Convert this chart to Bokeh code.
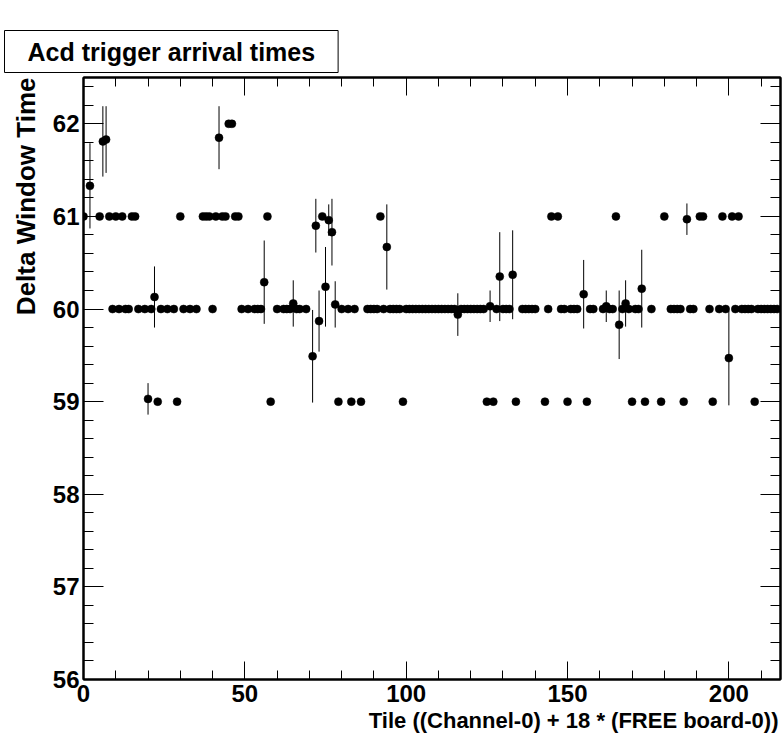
from bokeh.plotting import figure
from bokeh.models import LinearAxis, FixedTicker, CustomJSTickFormatter, Range1d, Title
from bokeh.embed import file_html
from bokeh.resources import INLINE

# ---- data ----
tiles_59 = [23, 29, 58, 79, 83, 86, 99, 125, 127, 134, 143, 150, 156, 170, 174,
            179, 186, 195, 208]
tiles_60 = [9, 11, 13, 14, 17, 19, 21, 24, 26, 28, 31, 33, 35, 40, 49, 51, 53, 54,
            55, 60, 62, 63, 64, 66, 67, 69, 80, 82, 84, 88, 89, 90, 91, 93, 95, 96,
            97, 98, 100, 101, 102, 103, 104, 105, 106, 107, 108, 109, 110, 111, 112,
            113, 114, 115, 117, 118, 119, 120, 121, 122, 123, 124, 128, 130, 131,
            132, 136, 137, 138, 139, 140, 144, 148, 149, 151, 152, 153, 157, 158,
            161, 163, 164, 167, 169, 171, 172, 176, 182, 183, 184, 185, 188, 189,
            194, 197, 199, 202, 204, 205, 206, 207, 209, 210, 211, 212, 213, 214, 215]
tiles_61 = [0, 5, 8, 10, 12, 15, 16, 30, 37, 38, 39, 41, 43, 44, 47, 48, 57, 74, 92,
            145, 147, 165, 180, 191, 192, 198, 201, 203]
tiles_62 = [45, 46]

err_tiles = [2, 6, 7, 20, 22, 42, 56, 65, 71, 72, 73, 75, 76, 77, 78, 94, 116, 126,
             129, 133, 155, 162, 166, 168, 173, 187, 200]
err_values = [61.33, 61.81, 61.83, 59.03, 60.13, 61.85, 60.29, 60.06, 59.49, 60.90,
              59.87, 60.24, 60.96, 60.83, 60.05, 60.67, 59.94, 60.03, 60.35, 60.37,
              60.16, 60.03, 59.83, 60.06, 60.22, 60.97, 59.47]
err_sizes = [0.46, 0.38, 0.36, 0.17, 0.33, 0.34, 0.45, 0.25, 0.50, 0.29, 0.33, 0.43,
             0.17, 0.36, 0.25, 0.46, 0.23, 0.17, 0.48, 0.48, 0.37, 0.17, 0.37, 0.25,
             0.42, 0.17, 0.51]

x_major = [0, 50, 100, 150, 200]
x_minor = [0, 10, 20, 30, 40, 50, 60, 70, 80, 90, 100, 110, 120, 130, 140, 150,
           160, 170, 180, 190, 200, 210]
y_major = [56, 57, 58, 59, 60, 61, 62]
y_minor = [56.0, 56.2, 56.4, 56.6, 56.8, 57.0, 57.2, 57.4, 57.6, 57.8, 58.0, 58.2,
           58.4, 58.6, 58.8, 59.0, 59.2, 59.4, 59.6, 59.8, 60.0, 60.2, 60.4, 60.6,
           60.8, 61.0, 61.2, 61.4, 61.6, 61.8, 62.0, 62.2, 62.4]

title_text = "Acd trigger arrival times"
x_title = "Tile ((Channel-0) + 18 * (FREE board-0))"
y_title = "Delta Window Time"

# ---- assemble points ----
xs = tiles_59 + tiles_60 + tiles_61 + tiles_62 + err_tiles
ys = ([59.0] * len(tiles_59) + [60.0] * len(tiles_60) + [61.0] * len(tiles_61)
      + [62.0] * len(tiles_62) + err_values)
lo = [v - e for v, e in zip(err_values, err_sizes)]
hi = [v + e for v, e in zip(err_values, err_sizes)]

FONT = "Liberation Sans"

p = figure(width=783, height=744, x_range=Range1d(0, 216), y_range=Range1d(56, 62.5),
           output_backend="svg", toolbar_location=None,
           x_axis_location=None, y_axis_location=None,
           min_border_left=82, min_border_right=3, min_border_top=77,
           min_border_bottom=65)
p.grid.visible = False
p.outline_line_color = "black"
p.outline_line_width = 2
p.background_fill_color = "white"
p.border_fill_color = "white"


def style(ax, major_in, minor_in, labels):
    ax.major_tick_in = major_in
    ax.major_tick_out = 0
    ax.minor_tick_in = minor_in
    ax.minor_tick_out = 0
    ax.axis_line_color = "black"
    ax.axis_line_width = 2
    ax.major_tick_line_color = "black"
    ax.minor_tick_line_color = "black"
    ax.major_tick_line_width = 1
    ax.minor_tick_line_width = 1
    if labels:
        ax.major_label_text_font = FONT
        ax.major_label_text_font_style = "bold"
        ax.major_label_text_font_size = "24px"
        ax.major_label_text_color = "black"
    else:
        ax.formatter = CustomJSTickFormatter(code="return ''")
        ax.major_label_standoff = 0
        ax.major_label_text_font_size = "1px"


xb = LinearAxis(ticker=FixedTicker(ticks=x_major, minor_ticks=x_minor))
style(xb, 18, 9, True)
xb.major_label_standoff = 5
p.add_layout(xb, "below")

xt = LinearAxis(ticker=FixedTicker(ticks=x_major, minor_ticks=x_minor))
style(xt, 18, 9, False)
xt.major_label_standoff = 27  # spacer between frame and title box
p.add_layout(xt, "above")

yl = LinearAxis(ticker=FixedTicker(ticks=y_major, minor_ticks=y_minor))
style(yl, 20, 10, True)
yl.major_label_standoff = 4
p.add_layout(yl, "left")

yr = LinearAxis(ticker=FixedTicker(ticks=y_major, minor_ticks=y_minor))
style(yr, 20, 10, False)
p.add_layout(yr, "right")

p.segment(x0=err_tiles, y0=lo, x1=err_tiles, y1=hi, line_color="black", line_width=1)
p.scatter(x=xs, y=ys, marker="circle", size=8, fill_color="black", line_color="black",
          line_width=0.5)

# main title in a box (top-left)
p.title = Title(text=title_text, align="left", vertical_align="top", offset=-79,
                standoff=6, text_font=FONT, text_font_style="bold",
                text_font_size="25px", text_color="black", border_line_color="black",
                border_line_width=1, background_fill_color="white", padding=(23, 7))
# x axis title, right aligned
p.add_layout(Title(text=x_title, align="right", offset=2, standoff=3,
                   text_font=FONT, text_font_style="bold", text_font_size="22px",
                   text_color="black"), "below")
# y axis title, top aligned
p.add_layout(Title(text=y_title, align="right", offset=0, standoff=17,
                   text_font=FONT, text_font_style="bold", text_font_size="26px",
                   text_color="black"), "left")

open("out.html", "w").write(file_html(p, INLINE))
